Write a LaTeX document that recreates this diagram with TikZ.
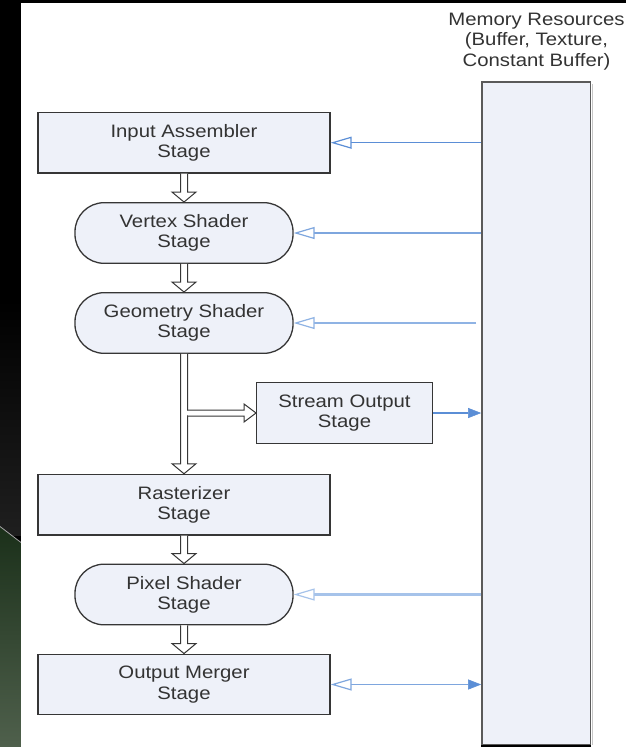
\documentclass[tikz,border=0pt]{standalone}
\usepackage{fontspec}
\setmainfont[FakeStretch=1.13]{Liberation Sans}
\usetikzlibrary{arrows.meta,calc}

\definecolor{boxfill}{HTML}{EEF1F9}
\definecolor{boxline}{HTML}{363636}
\definecolor{txt}{HTML}{333333}
\definecolor{linkdark}{HTML}{5B8ED6}
\definecolor{linkmid}{HTML}{7EA6DE}
\definecolor{linksoft}{HTML}{8FB3E4}
\definecolor{linklight}{HTML}{A6C3EA}
\definecolor{memline}{HTML}{5A5A5A}
\definecolor{greentop}{HTML}{1B301A}
\definecolor{greenbot}{HTML}{4F604C}

\tikzset{
  lbl/.style={text=txt, align=center, inner sep=0pt,
    font=\fontsize{18}{20.3}\selectfont},
  stagebox/.style={lbl, draw=boxline, fill=boxfill, line width=1.3pt,
    rectangle, minimum height=60.6pt},
  wide/.style={stagebox, minimum width=292pt},
  shader/.style={stagebox, minimum width=218pt, rounded corners=29pt},
  blk/.style={draw=boxline, fill=white, line width=1pt},
  feed/.style={line width=1.3pt, draw=linkdark,
    -{Triangle[open, length=21pt, width=12pt, fill=white, line width=1.2pt]}},
  solidtip/.style={-{Triangle[length=13pt, width=10pt, line width=0.5pt]}},
}

% hollow block arrow running down from one stage to the next
\newcommand\flowdown[2]{%
  \draw[blk] let \p1=(#1.south), \p2=(#2.north) in
    (\x1-3.5pt,\y1) -- (\x1-3.5pt,\y2+10pt) -- (\x1-12pt,\y2+10pt) --
    (\x1,\y2) -- (\x1+12pt,\y2+10pt) -- (\x1+3.5pt,\y2+10pt) -- (\x1+3.5pt,\y1);}

\begin{document}
\begin{tikzpicture}[x=1pt,y=-1pt]
\useasboundingbox (0,0) rectangle (626,747);

% slide backdrop
\fill[black] (0,0) rectangle (626,747);
\shade[top color=black, bottom color=black!88!white] (0,300) rectangle (21,535);
\shade[top color=greentop, bottom color=greenbot]
  (0,527) -- (21,543) -- (21,747) -- (0,747) -- cycle;
\draw[gray!70, line width=0.8pt] (0,526.5) -- (21,542.5);
\fill[white] (21,3) rectangle (626,747);

% memory resources column
\node[lbl] (memlbl) at (536.5,41.5) {Memory Resources\\(Buffer, Texture,\\Constant Buffer)};
\draw[black!22, line width=1.2pt] (592.3,84) -- (592.3,745);
\node[draw=memline, fill=boxfill, line width=1.6pt, minimum width=108.5pt,
  minimum height=663pt, inner sep=0pt] (mem) at (536.2,413.5) {};
\draw[black, line width=1.8pt] (mem.south west) -- (mem.south east);

% pipeline stages
\node[wide]   (ia) at (184,142.7) {Input Assembler\\Stage};
\node[shader] (vs) at (184,233)   {Vertex Shader\\Stage};
\node[shader] (gs) at (184,323)   {Geometry Shader\\Stage};
\node[stagebox, minimum width=175.6pt] (so) at (344.5,413) {Stream Output\\Stage};
\node[wide]   (ra) at (184,504.7) {Rasterizer\\Stage};
\node[shader] (ps) at (184,594.5) {Pixel Shader\\Stage};
\node[wide]   (om) at (184,684.5) {Output Merger\\Stage};

% data flow between stages
\flowdown{ia}{vs}
\flowdown{vs}{gs}
\flowdown{gs}{ra}
\flowdown{ra}{ps}
\flowdown{ps}{om}

% branch into the stream output stage
\fill[white] let \p1=(gs.south), \p2=(so.west) in
  (\x1+2.8pt,\y2-2.4pt) rectangle (\x1+4.4pt,\y2+2.4pt);
\draw[blk] let \p1=(gs.south), \p2=(so.west) in
  (\x1+3.5pt,\y2+3pt) -- (\x2-12pt,\y2+3pt) -- (\x2-12pt,\y2+9pt) --
  (\x2,\y2) -- (\x2-12pt,\y2-9pt) -- (\x2-12pt,\y2-3pt) -- (\x1+3.5pt,\y2-3pt);

% resource access
\draw[feed] (mem.west |- ia.east) -- (ia.east);
\draw[feed, line width=2.2pt, draw=linkmid] (mem.west |- vs.east) -- (vs.east);
\draw[feed, line width=2pt, draw=linksoft, shorten <=5pt] (mem.west |- gs.east) -- (gs.east);
\draw[line width=1.3pt, draw=linkdark, fill=linkdark, solidtip] (so.east) -- (mem.west |- so.east);
\draw[feed, line width=2.8pt, draw=linklight] (mem.west |- ps.east) -- (ps.east);
\draw[line width=1.5pt, draw=linkmid,
  {Triangle[open, length=21pt, width=12pt, fill=white, line width=1.2pt]}-{Triangle[length=13pt, width=10pt, line width=0.5pt, color=linkdark]}]
  (om.east) -- (mem.west |- om.east);
\end{tikzpicture}
\end{document}
